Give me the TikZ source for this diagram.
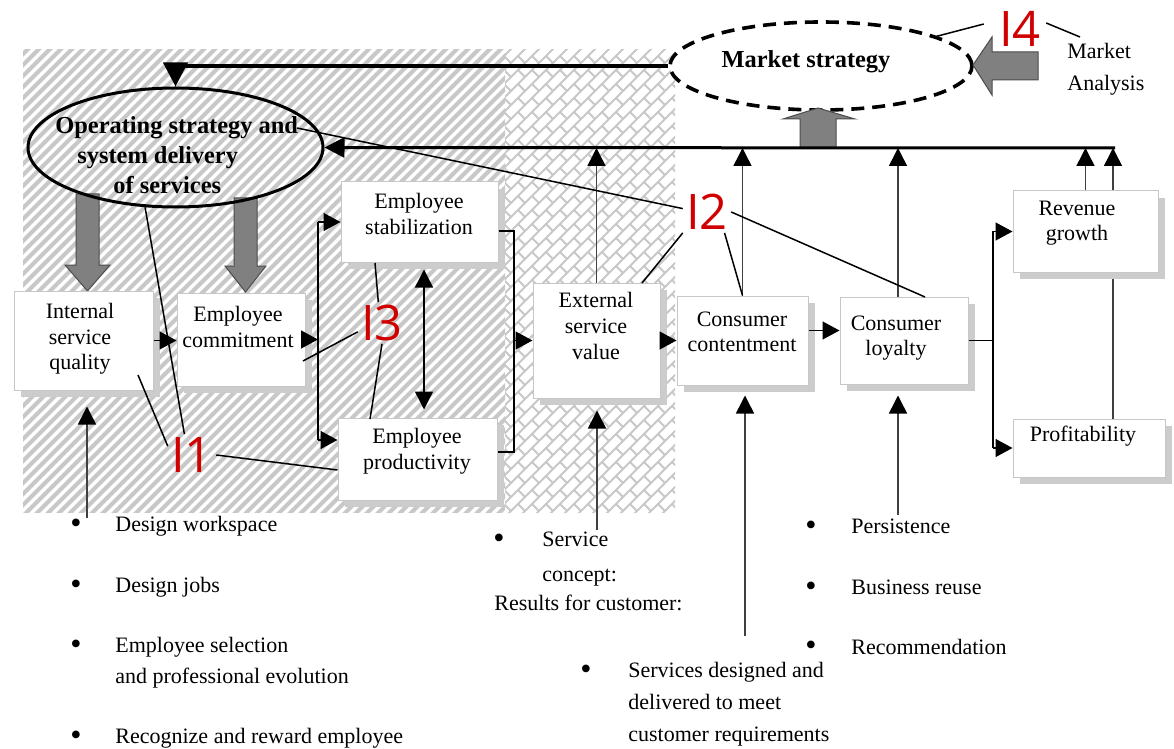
\documentclass[tikz,border=0pt]{standalone}
\usepackage{fontspec}
\setmainfont{Liberation Serif}
\newfontfamily\tagfont{Open Sans}
\usetikzlibrary{arrows.meta,shadows,shapes.geometric,calc}
\pgfdeclarelayer{bg}
\pgfdeclarelayer{mid}
\pgfsetlayers{bg,mid,main}
\definecolor{stripegray}{RGB}{200,200,200}
\definecolor{brickgray}{RGB}{200,200,200}
\definecolor{shadegray}{RGB}{204,204,204}
\definecolor{blockgray}{RGB}{128,128,128}
\definecolor{tagred}{RGB}{208,0,0}
\tikzset{
  stripe/.style={stripegray, line width=2pt},
  brickline/.style={brickgray, line width=0.9pt},
  box/.style={draw=black!22, line width=0.5pt, fill=white, inner sep=0pt,
    general shadow={fill=shadegray, shadow xshift=3.5pt, shadow yshift=-3.5pt}},
  boxtext/.style={font=\fontsize{11}{12.8}\selectfont, align=center, inner sep=0pt},
  boldtext/.style={font=\bfseries\fontsize{12.2}{15}\selectfont, inner sep=0pt},
  note/.style={font=\fontsize{11}{13}\selectfont, anchor=base west, inner sep=0pt},
  dot/.style={font=\fontsize{16}{16}\selectfont, anchor=base west, inner sep=0pt,
    text height=6pt, text depth=0pt},
  tag/.style={font=\tagfont\fontsize{24.5}{24.5}\selectfont, text=tagred,
    inner sep=1.5pt, text height=17.5pt, text depth=0pt},
  lead/.style={line width=0.75pt},
  link/.style={line width=0.7pt},
  flow/.style={line width=0.7pt, -{Triangle[length=8.5pt,width=9pt]}},
  feed/.style={draw=black!75, line width=0.75pt, -{Triangle[length=9pt,width=9pt,black]}},
  block/.style={fill=blockgray, draw=black!70, line width=0.5pt},
}
\begin{document}
\begin{tikzpicture}[x=0.5pt,y=-0.5pt]
\useasboundingbox (0,0) rectangle (1174,749);

% backdrop: striped and brick-patterned zones
\begin{pgfonlayer}{bg}
\fill[white] (0,0) rectangle (1174,749);
\begin{scope}
  \clip (23,50) rectangle (505,512);
  \foreach \c in {66,77,...,1028} \draw[stripe] (\c,0) -- (\c-600,600);
\end{scope}
\begin{scope}
  \clip (505,50) rectangle (675,512);
  \foreach \k in {39,...,85} {
    \draw[brickline] ({\k*14},0) -- ({\k*14-700},700);
    \foreach \m in {-1,...,23} {
      \pgfmathsetmacro\cb{\m*28+mod(\k,2)*14}
      \draw[brickline] ({(\k*14+\cb)/2},{(\k*14-\cb)/2}) -- ({(\k*14+14+\cb)/2},{(\k*14+14-\cb)/2});
    }
  }
\end{scope}
\end{pgfonlayer}

% block arrows from the operating strategy
\draw[block] (76,194) -- (99,194) -- (99,265) -- (110,265) -- (87.5,291) -- (65,265) -- (76,265) -- cycle;
\draw[block] (234,198) -- (257,198) -- (257,266) -- (266,266) -- (245.5,292) -- (225,266) -- (234,266) -- cycle;

% strategy ellipses
\node[draw, ellipse, line width=1.5pt, minimum width=147.5pt, minimum height=59.5pt, inner sep=0pt] (ops) at (175.5,147.5) {};
\node[boldtext, align=left, anchor=west] (opsT) at (55,155)
  {Operating strategy and\\\hspace*{11pt}system delivery\\\hspace*{29pt}of services};

\node[draw, ellipse, dash pattern=on 6.5pt off 4pt, line width=1.8pt, fill=white,
  minimum width=151pt, minimum height=44pt, inner sep=0pt] (mkt) at (821,66) {};
\node[boldtext] (mktT) at (806,62) {Market strategy};
\draw[block] (800,148) -- (800,119) -- (783,119) -- (818,108) -- (855,119) -- (836,119) -- (836,148) -- cycle;
\draw[block] (1038,52) -- (992,52) -- (992,37) -- (973,65) -- (992,95) -- (992,80) -- (1038,80) -- cycle;
\node[font=\fontsize{11}{16}\selectfont, align=left, anchor=north west, inner sep=0pt] (ana) at (1067,43) {Market\\Analysis};

% chain boxes
\node[box, minimum width=69.5pt, minimum height=49.5pt] (isq) at (83.5,340.5) {};
\node[box, minimum width=64pt, minimum height=46.5pt] (com) at (241,339.5) {};
\node[box, minimum width=78.5pt, minimum height=40pt] (stab) at (419.5,222) {};
\node[box, minimum width=79.5pt, minimum height=41pt] (prod) at (417.5,459) {};
\node[box, minimum width=63.5pt, minimum height=57.5pt] (ext) at (596.5,340.5) {};
\node[box, minimum width=65.5pt, minimum height=44.5pt] (cont) at (742.5,340.5) {};
\node[box, minimum width=64pt, minimum height=43.5pt] (loy) at (904,340.5) {};
\node[box, minimum width=72.5pt, minimum height=40.5pt] (rev) at (1085.5,231.5) {};
\node[box, minimum width=76pt, minimum height=29pt] (prof) at (1089,448) {};

\node[boxtext] (isqT) at (80,339) {Internal\\service\\quality};
\node[boxtext] (comT) at (238,327) {Employee\\commitment};
\node[boxtext] (stabT) at (419,214) {Employee\\stabilization};
\node[boxtext] (prodT) at (417,451) {Employee\\productivity};
\node[boxtext] (extT) at (596,326) {External\\service\\value};
\node[boxtext] (contT) at (742,332) {Consumer\\contentment};
\node[boxtext] (loyT) at (896,338) {Consumer\\loyalty};
\node[boxtext] (revT) at (1077,223) {Revenue\\growth};
\node[boxtext] (profT) at (1083,436) {Profitability};

% feedback buses
\coordinate (busR) at (1115,148);
\draw[line width=2pt, -{Triangle[length=12pt,width=12pt]}] (mkt.west) -| (ops.north);
\draw[line width=1.5pt, -{Triangle[length=10pt,width=10pt]}] (busR) -- (ops.east);

\coordinate (loyUp) at ($(loy.north)+(-6,0)$);
\coordinate (profUp) at ($(prof.north)+(24,0)$);
\draw[feed] (ext.north) -- (ext.north |- busR);
\draw[feed] (cont.north) -- (cont.north |- busR);
\draw[feed] (loyUp) -- (loyUp |- busR);
\draw[feed] (rev.north) -- (rev.north |- busR);
\begin{pgfonlayer}{mid}
\draw[feed] (profUp) -- (profUp |- busR);
\end{pgfonlayer}

% inputs from below
\coordinate (inA) at (87,518);
\coordinate (inB) at (597,530);
\coordinate (inC) at (745,636);
\coordinate (inD) at (898,515);
\draw[feed, shorten >=8pt] (inA) -- (inA |- isq.south);
\draw[feed, shorten >=6pt] (inB) -- (inB |- ext.south);
\draw[feed, shorten >=5pt] (inC) -- (inC |- cont.south);
\draw[feed, shorten >=5.5pt] (inD) -- (inD |- loy.south);

% chain links
\draw[flow] (isq.east) -- (isq.east -| com.west);
\coordinate (brLt) at (318,222);
\coordinate (brLb) at (318,440);
\draw[flow] (com.east) -- (com.east -| brLt);
\draw[link] (brLt) -- (brLb);
\draw[flow] (brLt) -- (stab.west);
\draw[flow] (brLb) -- (brLb -| prod.west);
\draw[link] ($(stab.east)+(0,9)$) -| (514,336) |- ($(prod.east)+(0,-7)$);
\coordinate (brR) at (514,340.5);
\draw[flow] (brR) -- (ext.west);
\draw[line width=0.7pt, {Triangle[length=9pt,width=9pt]}-{Triangle[length=9pt,width=9pt]}]
  ($(stab.south)+(4.5,7)$) -- ($(prod.north)+(6.5,-8)$);
\draw[flow] (ext.east) -- (cont.west);
\draw[flow] ($(cont.east)+(0,-10)$) -- ($(loy.west)+(0,-10)$);
\coordinate (brQt) at (993,231.5);
\coordinate (brQb) at (993,448);
\draw[link] (loy.east) -- (loy.east -| brQt);
\draw[link] (brQt) -- (brQb);
\draw[flow] (brQt) -- (rev.west);
\draw[flow] (brQb) -- (prof.west);

% indicator tags and their leaders
\node[tag] (i1) at (192,455) {I1};
\node[tag] (i2) at (707,212) {I2};
\node[tag] (i3) at (382,323) {I3};
\node[tag] (i4) at (1020,29) {I4};

\draw[lead] (i1.160) -- (138,375);
\draw[lead] (i1.110) -- (ops.-117);
\draw[lead] (i1.east) -- ($(prod.west)+(0,11)$);
\draw[lead] (i2.172) -- (297,128);
\draw[lead] (i2.south west) -- (642,283);
\draw[lead] (i2.-50) -- (cont.north);
\draw[lead] (i2.east) -- (925,297);
\draw[lead] (i3.100) -- (375,263);
\draw[lead] (i3.200) -- (303,361);
\draw[lead] (i3.south) -- (370,419);
\draw[lead] ($(i4.west)+(-12,-5)$) -- (934,37);
\draw[lead] ($(i4.east)+(2,-6)$) -- (1080,37);

% notes under the chain
\node[dot] (a1b) at (70,533) {\textbullet};
\node[note] (a1) at (115,531) {Design workspace};
\node[dot] (a2b) at (70,594) {\textbullet};
\node[note] (a2) at (115,592) {Design jobs};
\node[dot] (a3b) at (70,654) {\textbullet};
\node[note] (a3) at (115,652) {Employee selection};
\node[note] (a3x) at (115,683) {and professional evolution};
\node[dot] (a4b) at (70,745) {\textbullet};
\node[note] (a4) at (115,743) {Recognize and reward employee};

\node[dot] (b1b) at (493,548) {\textbullet};
\node[note] (b1) at (542,546) {Service};
\node[note] (b1x) at (542,581) {concept:};
\node[note] (b2) at (494,610) {Results for customer:};

\node[dot] (c1b) at (580,679) {\textbullet};
\node[note] (c1) at (628,677) {Services designed and};
\node[note] (c1x) at (628,709) {delivered to meet};
\node[note] (c1y) at (628,741) {customer requirements};

\node[dot] (d1b) at (805,535) {\textbullet};
\node[note] (d1) at (851,533) {Persistence};
\node[dot] (d2b) at (805,596) {\textbullet};
\node[note] (d2) at (851,594) {Business reuse};
\node[dot] (d3b) at (805,655) {\textbullet};
\node[note] (d3) at (851,654) {Recommendation};
\end{tikzpicture}
\end{document}
